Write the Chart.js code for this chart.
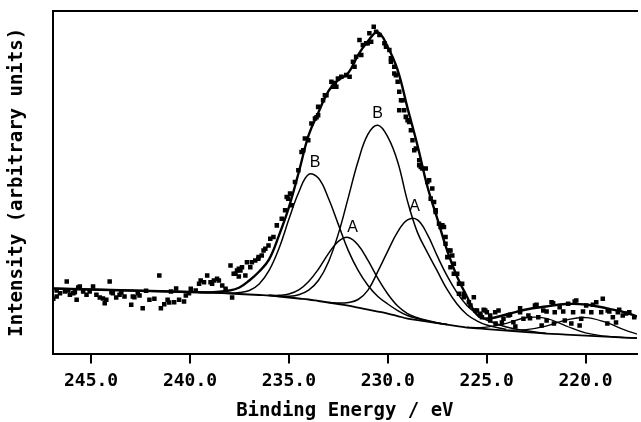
<!DOCTYPE html>
<html>
<head>
<meta charset="utf-8">
<title>XPS spectrum</title>
<script src="https://cdn.jsdelivr.net/npm/chart.js@4.4.0/dist/chart.umd.min.js"></script>
<style>
    html, body { margin: 0; padding: 0; background: #fff; }
    #wrap { width: 641px; height: 422px; }
</style>
</head>
<body>
<div id="wrap"><canvas id="xpsChart" width="641" height="422"></canvas></div>
<script>
// ==================== AXIS DATA ====================
const xTickValues = [245, 240, 235, 230, 225, 220];
const energyRange = [217.4, 246.94];      // eV, axis runs high -> low
const intensityRange = [0, 342];          // arbitrary units

// ==================== MEASURED POINTS ====================
const pointEnergy = [
    246.91, 246.74, 246.57, 246.32, 246.23, 246.07, 245.90, 245.73, 245.65, 245.57,
    245.40, 245.23, 245.07, 244.90, 244.73, 244.56, 244.40, 244.31, 244.23, 244.06,
    243.90, 243.73, 243.56, 243.47, 243.31, 242.97, 242.89, 242.64, 242.55, 242.39,
    242.22, 242.05, 241.80, 241.55, 241.47, 241.30, 241.13, 241.05, 240.96, 240.80,
    240.70, 240.55, 240.30, 240.05, 239.71, 239.29, 239.13, 238.88, 238.54, 238.37,
    237.95, 237.87, 237.79, 237.62, 237.53, 237.37, 237.12, 236.95, 236.70, 236.53,
    236.28, 236.03, 235.94, 235.78, 235.61, 235.36, 235.19, 235.11, 234.94, 234.69,
    234.52, 234.27, 234.19, 233.86, 233.68, 233.60, 233.52, 233.27, 233.10, 232.85,
    232.68, 232.60, 232.35, 232.10, 231.93, 231.76, 231.68, 231.43, 231.34, 231.26,
    231.01, 230.84, 230.71, 230.59, 230.42, 230.17, 229.92, 229.84, 229.67, 229.59,
    229.50, 229.42, 229.25, 229.09, 228.92, 228.75, 228.66, 228.41, 228.25, 228.08,
    228.00, 227.83, 227.75, 227.58, 227.33, 227.24, 227.08, 226.99, 226.83, 226.66,
    226.49, 226.24, 226.16, 225.90, 225.65, 225.49, 225.32, 225.24, 224.99, 224.82,
    224.55, 224.40, 224.15, 223.90, 223.65, 223.55, 223.31, 223.14, 222.89, 222.56,
    222.39, 222.14, 221.97, 221.72, 221.60, 221.56, 221.31, 221.05, 220.88, 220.63,
    220.47, 220.30, 220.22, 219.97, 219.71, 219.46, 219.21, 219.13, 218.90, 218.88,
    218.62, 218.37, 218.12, 217.79, 217.54,
    239.54, 238.96, 238.63, 237.70, 237.53, 236.87, 236.55, 236.37, 236.19, 235.03,
    234.86, 234.36, 234.02, 233.52, 233.18, 232.77, 232.52, 231.60, 231.09, 230.93,
    230.09, 229.84, 229.67, 229.42, 229.33, 229.17, 229.00, 228.83, 228.58, 228.41,
    228.33, 227.91, 227.66, 227.58, 227.41, 227.16, 227.08, 226.91, 226.74, 226.83,
    226.66, 226.40, 226.40, 226.16, 225.82, 225.57, 225.32, 225.07, 224.82, 224.57,
    225.15, 223.82, 223.31, 222.81, 222.48, 221.97, 221.64, 221.13, 220.55, 220.13,
    219.63, 218.80, 218.30, 224.23, 222.22, 220.72, 218.46, 217.95, 246.74, 246.15,
    245.82, 243.97, 242.81, 240.21, 239.96, 239.46, 238.79, 238.20, 237.45, 237.20
];
const pointIntensity = [
    54.7, 57.0, 60.3, 62.0, 72.0, 58.7, 60.3, 53.7, 66.0, 67.0,
    62.0, 58.7, 62.0, 67.0, 58.7, 56.0, 55.0, 50.3, 53.7, 72.0,
    60.3, 56.0, 58.7, 61.0, 57.0, 48.7, 57.0, 60.3, 58.0, 45.3,
    62.7, 53.7, 54.7, 78.0, 45.3, 49.3, 53.7, 51.0, 62.0, 51.3,
    65.0, 53.7, 52.0, 60.3, 63.0, 71.3, 78.0, 69.7, 73.0, 68.0,
    88.0, 56.0, 79.7, 83.0, 77.0, 86.3, 91.3, 86.3, 93.0, 96.3,
    103.0, 108.0, 114.7, 116.3, 128.0, 134.7, 143.0, 156.3, 159.7, 171.3,
    183.0, 203.0, 214.7, 229.7, 234.7, 236.0, 238.0, 253.0, 258.0, 271.3,
    270.0, 266.3, 276.3, 278.0, 276.3, 291.3, 286.3, 313.0, 298.0, 308.0,
    309.7, 311.3, 326.3, 321.3, 318.0, 309.7, 303.0, 294.7, 286.3, 278.0,
    271.3, 243.0, 253.0, 236.3, 231.3, 213.0, 203.0, 188.0, 184.7, 184.7,
    171.3, 154.7, 164.7, 143.0, 126.3, 128.0, 109.7, 96.3, 103.0, 89.7,
    79.7, 69.7, 59.7, 51.3, 56.3, 43.0, 38.0, 36.3, 41.3, 33.0,
    30.0, 43.0, 34.7, 38.0, 31.3, 27.0, 41.3, 34.7, 38.0, 48.0,
    36.3, 43.0, 33.0, 51.3, 30.0, 41.3, 46.3, 33.0, 49.7, 41.3,
    53.0, 28.0, 34.7, 48.0, 41.3, 51.3, 41.3, 54.7, 30.0, 43.0,
    36.3, 41.3, 38.0, 41.3, 36.3,
    69.7, 71.3, 74.7, 79.7, 84.7, 91.3, 94.7, 98.0, 104.7, 154.7,
    148.0, 201.3, 213.0, 246.3, 258.0, 266.3, 274.7, 296.3, 309.7, 319.7,
    306.3, 291.3, 279.7, 261.3, 253.0, 243.0, 233.0, 223.0, 204.7, 193.0,
    186.3, 173.0, 151.3, 141.3, 129.7, 126.3, 116.3, 103.0, 98.0, 86.3,
    79.7, 69.7, 59.7, 56.3, 48.0, 43.0, 39.7, 43.0, 38.0, 41.3,
    43.7, 38.7, 45.3, 35.3, 48.7, 42.0, 50.3, 42.0, 52.0, 42.0,
    48.7, 42.0, 43.7, 31.0, 28.0, 30.0, 31.0, 40.0, 63.0, 63.0,
    61.3, 61.3, 56.3, 58.0, 64.7, 73.0, 73.0, 64.7, 83.0, 78.0
];

// ==================== FITTED CURVES ====================
const fitEnergy = [
    247, 245, 243, 241, 240, 239, 238, 237.5, 237, 236.5,
    236, 235.5, 235, 234.5, 234, 233.5, 233, 232.5, 232, 231.5,
    231, 230.5, 230, 229.5, 229, 228.5, 228, 227.5, 227, 226.5,
    226, 225.5, 225, 224, 223, 222, 221, 220, 219, 218, 217.4
];
const background = [
    65, 64, 63, 62, 61.5, 61, 60, 59.5, 59, 58.5,
    58, 57, 56, 55, 54, 52.5, 51, 49.5, 48, 46,
    44, 42, 40, 37.5, 35, 33.5, 32, 30.5, 29, 27.5,
    26, 25.2, 24.5, 23, 21.5, 20, 19, 18, 17, 16, 15.5
];
const envelope = [
    65, 64, 63, 62, 61.5, 61, 63, 66, 73, 82,
    94, 118, 146, 181, 218, 241, 262, 273, 280, 298,
    312, 321, 306, 283, 245, 208, 167, 135, 103, 77,
    57, 39, 35, 39, 44, 47, 49.5, 49, 45.5, 41, 37
];
const peakB1 = [
    null, null, null, null, 61.5, 61.2, 60.5, 61, 63, 69.5,
    83, 105, 134, 161, 178.8, 175, 155, 129, 103, 83,
    68, 57, 49.5, 43, 38, 35, 32.5, 30.5, 29, null,
    null, null, null, null, null, null, null, null, null, null, null
];
const peakA1 = [
    null, null, null, null, null, null, null, null, null, null,
    58, 58.2, 59.4, 63.5, 72, 84.5, 99.8, 112, 116, 108.5,
    93, 75, 59.5, 47.5, 40, 35.8, 33, 30.8, 29, null,
    null, null, null, null, null, null, null, null, null, null, null
];
const peakB2 = [
    null, null, null, null, null, null, null, null, null, null,
    58.2, 57.5, 57.3, 58.8, 63.4, 73.2, 91.5, 119.5, 155.5, 192,
    219, 228, 216.3, 191.5, 152, 121, 101, 82.5, 64, 49.5,
    39, 32.7, 28.5, 24, null, null, null, null, null, null, null
];
const peakA2 = [
    null, null, null, null, null, null, null, null, null, null,
    null, null, null, null, null, null, 51, 50.5, 51, 54,
    63.4, 82, 102.3, 121.5, 133.5, 133.5, 119, 97.5, 77.5, 60.8,
    48, 39.8, 33.5, 26.5, 22.7, 20.4, null, null, null, null, null
];
const peakC1 = [
    null, null, null, null, null, null, null, null, null, null,
    null, null, null, null, null, null, null, null, null, null,
    null, null, null, null, null, null, null, null, null, null,
    26.3, 26, 26.4, 30.2, 35.8, 35.2, 27.7, 20.6, 17.4, 16, 15.5
];
const peakC2 = [
    null, null, null, null, null, null, null, null, null, null,
    null, null, null, null, null, null, null, null, null, null,
    null, null, null, null, null, null, null, null, null, null,
    null, null, null, 23.5, 23.9, 27.4, 33.4, 36, 31.4, 23.4, 19.5
];

// ==================== PEAK LABELS ====================
const peakLabels = ['B', 'A', 'B', 'A'];
const peakLabelEnergy = [233.67, 231.78, 230.51, 228.64];
const peakLabelIntensity = [190.5, 125.8, 240, 146.3];

// ==================== HELPERS ====================
const toPoints = (values) => fitEnergy
    .map((e, i) => ({ x: e, y: values[i] }))
    .filter(p => p.y !== null);

const fitLine = (label, values, width) => ({
    label,
    data: toPoints(values),
    showLine: true,
    borderColor: '#000',
    borderWidth: width,
    pointRadius: 0,
    tension: 0.4,
    fill: false
});

const tickFont = { family: '"DejaVu Sans Mono", monospace', size: 18, weight: 'bold' };
const titleFont = { family: '"DejaVu Sans Mono", monospace', size: 19, weight: 'bold' };

// ==================== PEAK LABEL PLUGIN ====================
const peakLabelPlugin = {
    id: 'peakLabels',
    afterDatasetsDraw(chart) {
        const { ctx, scales: { x, y } } = chart;
        ctx.save();
        ctx.font = '16px "Liberation Sans", Arial, sans-serif';
        ctx.fillStyle = '#000';
        ctx.textAlign = 'center';
        ctx.textBaseline = 'middle';
        peakLabels.forEach((text, i) => {
            ctx.fillText(text, x.getPixelForValue(peakLabelEnergy[i]), y.getPixelForValue(peakLabelIntensity[i]));
        });
        ctx.restore();
    }
};

// ==================== BUILD CHART ====================
const ctx = document.getElementById('xpsChart').getContext('2d');

new Chart(ctx, {
    type: 'scatter',
    data: {
        datasets: [
            fitLine('Envelope', envelope, 2.4),
            fitLine('B', peakB1, 1.5),
            fitLine('A', peakA1, 1.5),
            fitLine('B', peakB2, 1.5),
            fitLine('A', peakA2, 1.5),
            fitLine('Satellite 1', peakC1, 1.3),
            fitLine('Satellite 2', peakC2, 1.3),
            fitLine('Background', background, 1.8),
            {
                label: 'Measured',
                data: pointEnergy.map((e, i) => ({ x: e, y: pointIntensity[i] })),
                showLine: false,
                pointStyle: 'rect',
                pointRadius: 3.2,
                pointBackgroundColor: '#000',
                pointBorderWidth: 0
            }
        ]
    },
    options: {
        responsive: false,
        devicePixelRatio: 1,
        animation: false,
        layout: { padding: { top: 11, right: 0, bottom: 0, left: 0 } },
        plugins: {
            legend: { display: false },
            tooltip: { enabled: false }
        },
        scales: {
            x: {
                type: 'linear',
                position: 'bottom',
                reverse: true,
                min: energyRange[0],
                max: energyRange[1],
                afterBuildTicks: (axis) => {
                    axis.ticks = xTickValues.map(v => ({ value: v }));
                },
                ticks: {
                    color: '#000',
                    padding: 7,
                    font: tickFont,
                    maxRotation: 0,
                    autoSkip: false,
                    callback: (value) => Number(value).toFixed(1)
                },
                grid: {
                    display: true,
                    drawOnChartArea: false,
                    drawTicks: true,
                    tickLength: 10,
                    lineWidth: 2,
                    color: '#000'
                },
                border: { display: true, color: '#000', width: 2 },
                title: {
                    display: true,
                    text: 'Binding Energy / eV',
                    color: '#000',
                    font: titleFont,
                    padding: { top: 0, bottom: 0 }
                }
            },
            xTop: {
                type: 'linear',
                axis: 'x',
                position: 'top',
                reverse: true,
                min: energyRange[0],
                max: energyRange[1],
                ticks: { display: false },
                grid: { display: false, drawTicks: false },
                border: { display: true, color: '#000', width: 2 }
            },
            y: {
                type: 'linear',
                min: intensityRange[0],
                max: intensityRange[1],
                ticks: { display: false },
                grid: { display: false, drawTicks: false },
                border: { display: true, color: '#000', width: 2 },
                title: {
                    display: true,
                    text: 'Intensity (arbitrary units)',
                    color: '#000',
                    font: titleFont,
                    padding: { top: 5.6, bottom: 24.3 }
                }
            }
        }
    },
    plugins: [peakLabelPlugin]
});
</script>
</body>
</html>
